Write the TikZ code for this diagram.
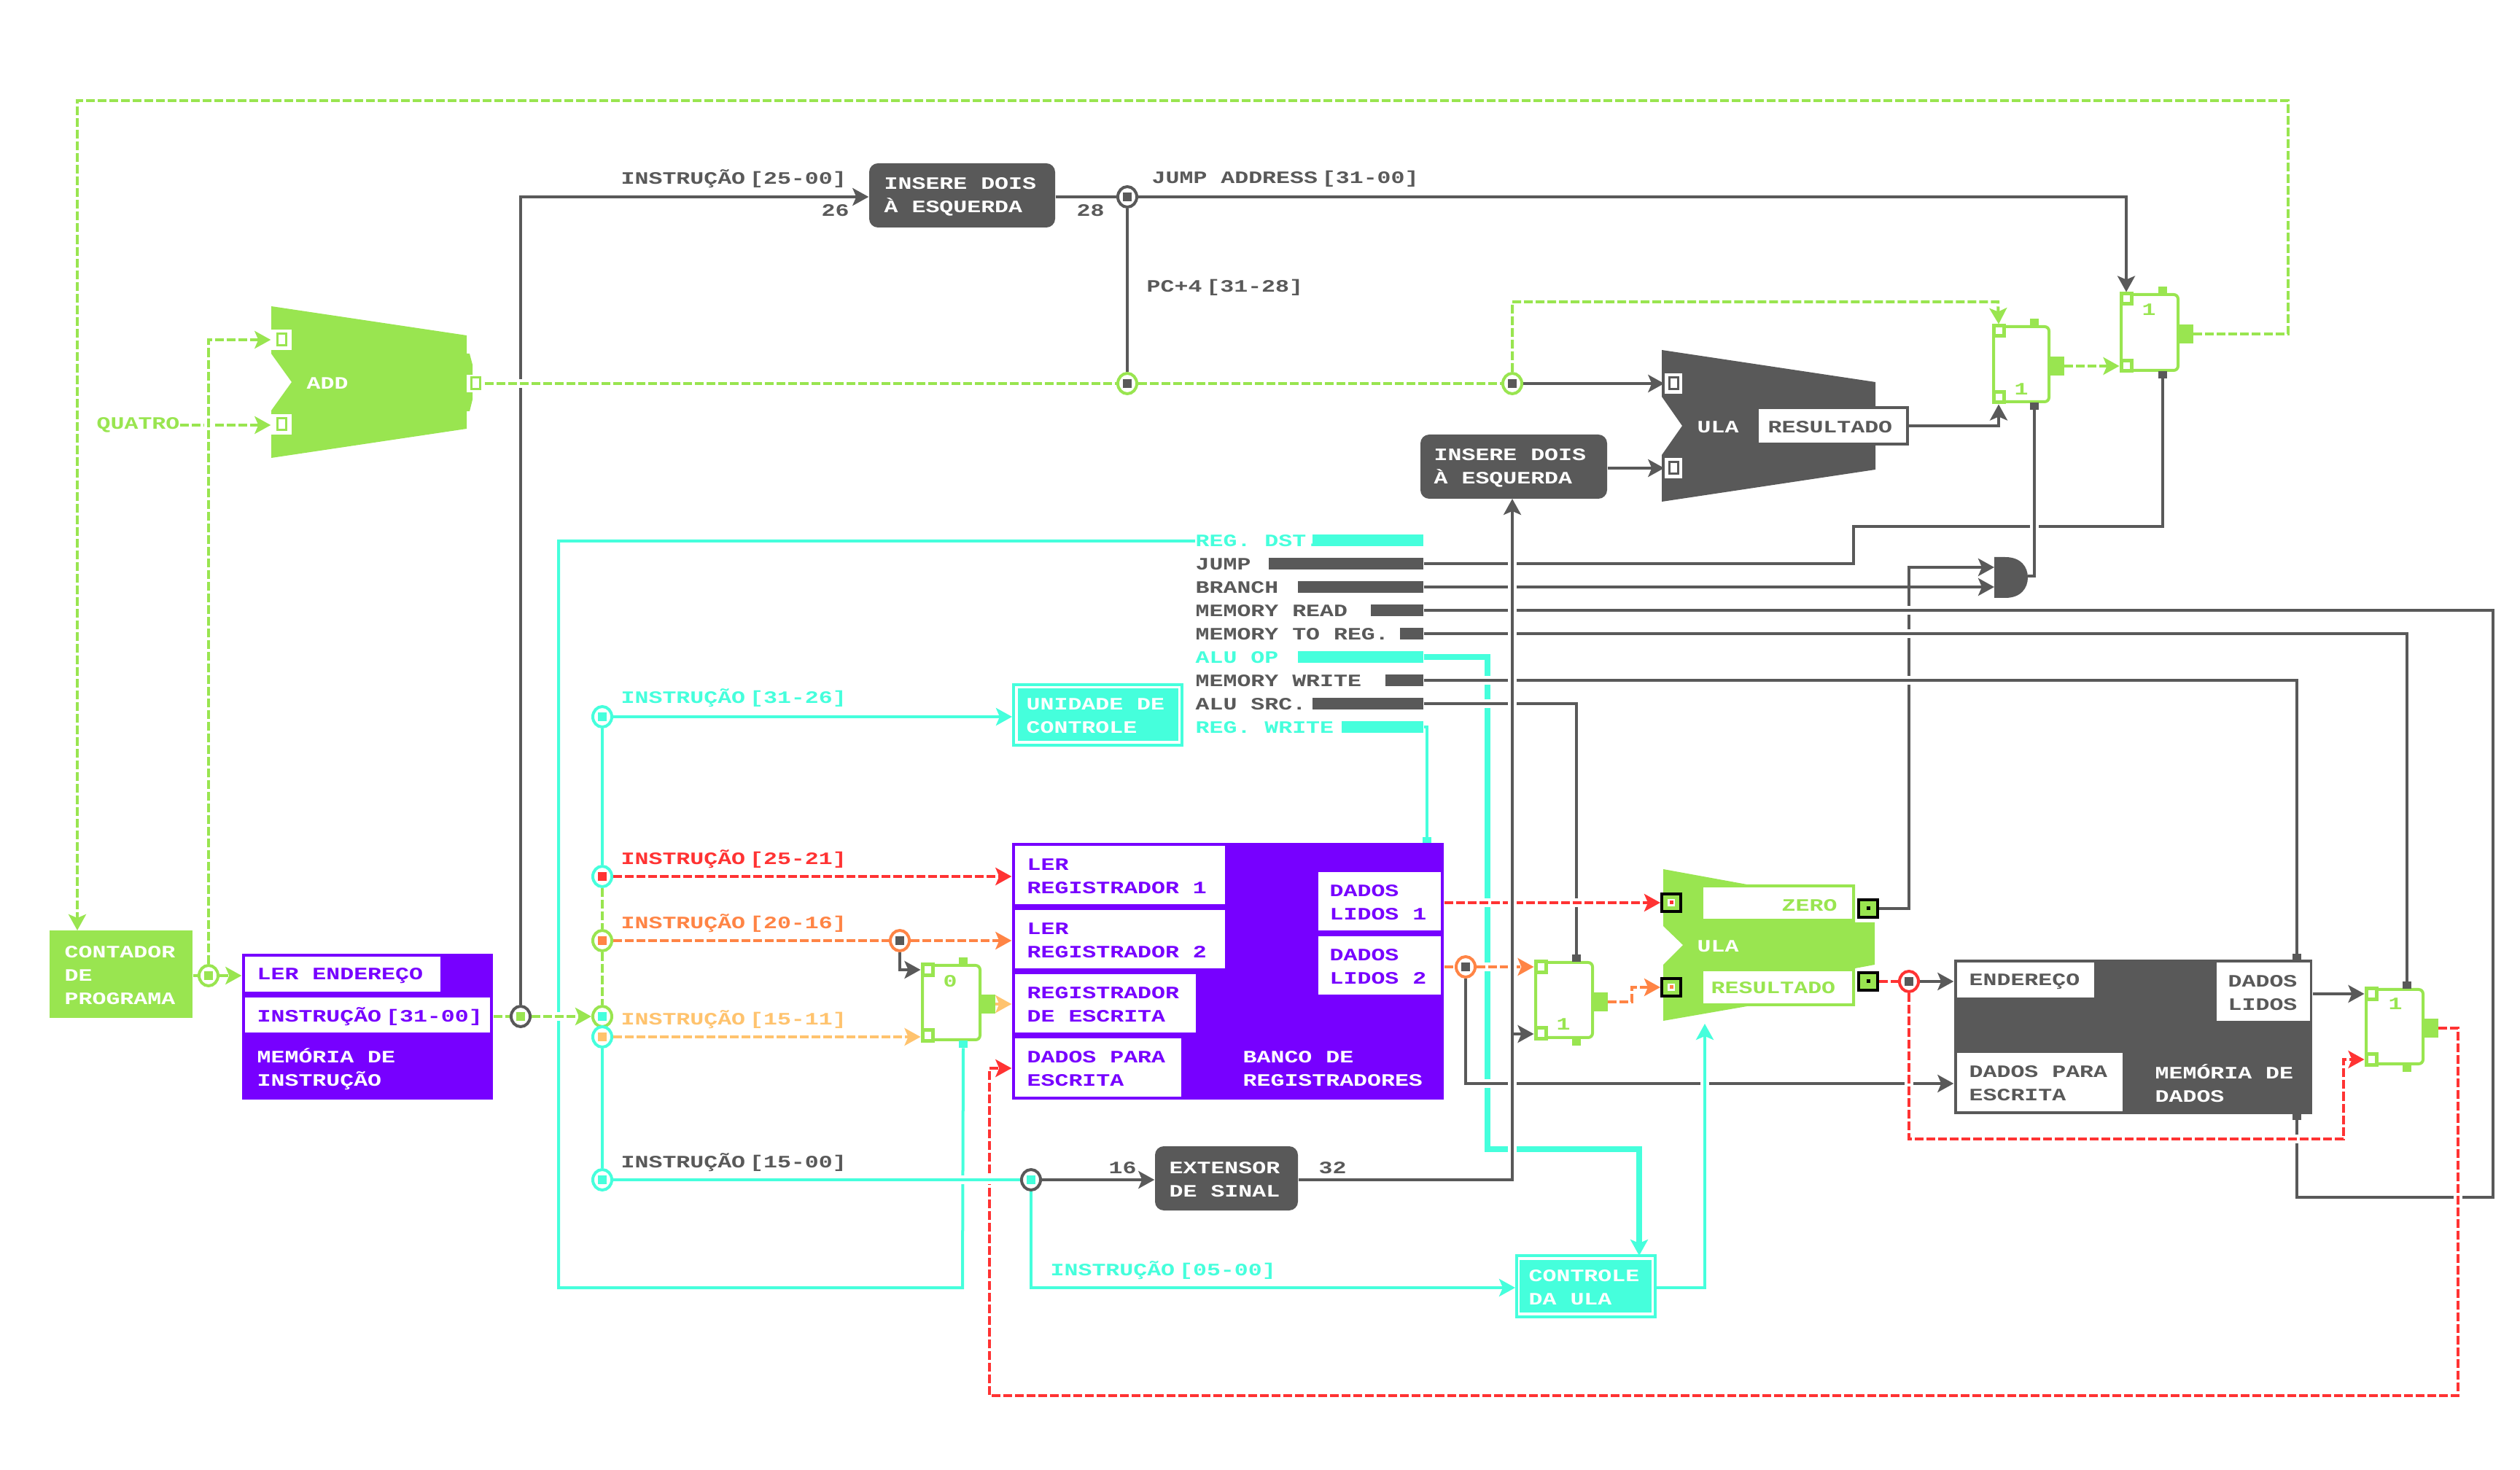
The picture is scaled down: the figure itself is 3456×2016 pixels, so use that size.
\documentclass[tikz,border=0pt]{standalone}
\usepackage{fontspec}
\newfontfamily\pixelfont[FakeStretch=1.32]{Liberation Mono}
\usetikzlibrary{positioning,arrows.meta,fit,shapes.geometric}

\definecolor{vgreen}{HTML}{99E550}
\definecolor{vcyan}{HTML}{45FFDC}
\definecolor{vpurple}{HTML}{7700FF}
\definecolor{vdark}{HTML}{595959}
\definecolor{vred}{HTML}{FF3333}
\definecolor{vorange}{HTML}{FF8445}
\definecolor{vlight}{HTML}{FFC36E}

\tikzset{
	txt/.style={anchor=west,inner sep=0,yshift=-.2mm,align=left,font=\pixelfont\bfseries\fontsize{6.8}{9.1}\selectfont},
	wire/.style={line width=.4mm},
	tip/.style={-{Stealth[length=2.2mm,width=2.4mm,inset=.5mm]}},
	blunt/.style={-{Square[length=.8mm,width=1.2mm]}},
	dsh/.style={dash pattern=on 1.2mm off .4mm},
	over/.style={preaction={draw=white,line width=1.2mm,solid,-}},
	wdark/.style={wire,draw=vdark},
	wcyan/.style={wire,draw=vcyan},
	wgreen/.style={wire,dsh,draw=vgreen},
	wred/.style={wire,dsh,draw=vred},
	worange/.style={wire,dsh,draw=vorange},
	wlight/.style={wire,dsh,draw=vlight},
	block/.style={inner sep=0,fill=#1},
	proc/.style={inner sep=0,fill=vdark,rounded corners=1.2mm},
	junc/.style 2 args={ellipse,draw=#1,line width=.4mm,fill=white,inner sep=0,
		minimum width=2.6mm,minimum height=2.8mm,
		path picture={\fill[#2] (path picture bounding box.center) ++(-6,-6) rectangle ++(12,12);}},
	portw/.style={fill=white,inner sep=0,minimum width=2.8mm,minimum height=2.8mm,
		path picture={\draw[#1,line width=.3mm] (path picture bounding box.center) ++(-6,-8) rectangle ++(12,16);}},
	portk/.style 2 args={fill=vgreen,draw=black,line width=.4mm,inner sep=0,minimum width=2.6mm,minimum height=2.4mm,
		path picture={\fill[#1] (path picture bounding box.center) ++(-5,-5) rectangle ++(10,10);
			\fill[#2] (path picture bounding box.center) ++(-2.5,-2.5) rectangle ++(5,5);}},
	muxbox/.style={draw=vgreen,line width=.4mm,fill=white,inner sep=0,rounded corners=.6mm},
	muxpin/.style={draw=vgreen,line width=.5mm,fill=white,inner sep=0,minimum width=1.4mm,minimum height=1.4mm},
	stub/.style={fill=#1,inner sep=0,minimum width=1.2mm,minimum height=1mm},
}

\begin{document}
\begin{tikzpicture}[x=.01cm,y=-.01cm]
	\useasboundingbox (0,0) rectangle (3456,2016);

	% somador e ULAs
	\fill[vgreen] (372,420) -- (640,460) -- (640,485) -- (644,485) -- (648,500) -- (648,548) -- (644,564) -- (640,564)
		-- (640,588) -- (372,628) -- (372,563) -- (400,524) -- (372,485) -- cycle;
	\fill[vdark] (2279,480) -- (2572,524) -- (2572,644) -- (2279,688) -- (2279,624) -- (2307,584) -- (2279,544) -- cycle;
	\fill[vgreen] (2281,1192) -- (2396,1213) -- (2544,1213) -- (2544,1265) -- (2571,1265) -- (2571,1323) -- (2544,1328)
		-- (2544,1380) -- (2396,1380) -- (2281,1400) -- (2281,1323) -- (2308,1296) -- (2281,1270) -- cycle;
	\fill[vdark] (2735,764) -- (2750,764) .. controls (2772,764) and (2781,778) .. (2781,792)
		.. controls (2781,806) and (2772,820) .. (2750,820) -- (2735,820) -- cycle;
	\coordinate (and1) at (2735,778);
	\coordinate (and2) at (2735,805);
	\coordinate (andout) at (2781,790);
	\coordinate (ulabot) at (2338,1404);
	\coordinate (tap) at (2074,1418);

	\node[portw=vgreen]	(pa1) at (386,466) {};
	\node[portw=vgreen]	(pa2) at (386,582) {};
	\node[portw=vgreen,minimum width=2.4mm,minimum height=2.4mm]	(pa3) at (652,526) {};
	\node[portw=vdark,minimum width=2.4mm]	(pu1) at (2295,526) {};
	\node[portw=vdark,minimum width=2.4mm]	(pu2) at (2295,642) {};
	\node[portk={white}{vred}]	(px1) at (2292,1238) {};
	\node[portk={white}{vorange}]	(px2) at (2292,1354) {};
	\node[portk={vgreen}{black}]	(pz) at (2562,1246) {};
	\node[portk={vgreen}{black}]	(pr) at (2562,1346) {};

	% blocos
	\node[block=vgreen,fit={(68,1276)(264,1396)}] (pc) {};
	\node[block=vpurple,fit={(332,1308)(676,1508)}] (imem) {};
	\node[block=white,fit={(336,1312)(604,1360)}] (imread) {};
	\node[block=white,fit={(336,1368)(672,1416)}] (imout) {};
	\node[proc,fit={(1192,224)(1447,312)}] (ins1) {};
	\node[proc,fit={(1948,596)(2204,684)}] (ins2) {};
	\node[proc,fit={(1584,1572)(1780,1660)}] (sign) {};
	\node[draw=vcyan,line width=.4mm,inner sep=0,fit={(1390,939)(1621,1022)}] (ctl) {};
	\node[block=vcyan,fit={(1396,944)(1616,1016)}] (ctlin) {};
	\node[draw=vcyan,line width=.4mm,inner sep=0,fit={(2080,1722)(2270,1806)}] (cul) {};
	\node[block=vcyan,fit={(2084,1728)(2265,1800)}] (culin) {};
	\node[block=vpurple,fit={(1388,1156)(1980,1508)}] (regs) {};
	\node[block=white,fit={(1392,1160)(1680,1240)}] (rr1) {};
	\node[block=white,fit={(1392,1248)(1680,1328)}] (rr2) {};
	\node[block=white,fit={(1392,1336)(1640,1416)}] (rw) {};
	\node[block=white,fit={(1392,1424)(1620,1504)}] (rd) {};
	\node[block=white,fit={(1808,1196)(1976,1276)}] (rl1) {};
	\node[block=white,fit={(1808,1284)(1976,1364)}] (rl2) {};
	\node[block=vdark,fit={(2680,1316)(3171,1528)}] (dm) {};
	\node[block=white,fit={(2684,1320)(2872,1368)}] (dmaddr) {};
	\node[block=white,fit={(3040,1320)(3168,1400)}] (dmread) {};
	\node[block=white,fit={(2684,1444)(2911,1524)}] (dmwrite) {};
	\node[fill=white,draw=vdark,line width=.4mm,inner sep=0,fit={(2410,559)(2616,609)}] (res1) {};
	\node[fill=white,draw=vgreen,line width=.4mm,inner sep=0,fit={(2334,1215)(2542,1262)}] (zerobox) {};
	\node[fill=white,draw=vgreen,line width=.4mm,inner sep=0,fit={(2334,1330)(2542,1378)}] (resbox) {};

	% barras do controle
	\foreach \nm/\xa/\ym/\col in {brd/1800/741/vcyan,bjump/1740/773/vdark,bbranch/1780/805/vdark,bread/1880/837/vdark,
		bmtr/1920/869/vdark,bop/1780/901/vcyan,bwrite/1900/933/vdark,bsrc/1800/965/vdark,brw/1840/997/vcyan}{
		\node[block=\col,fit={(\xa,\ym-8)(1952,\ym+8)}] (\nm) {};
	}

	% multiplexadores
	\foreach \nm/\xa/\ya/\xb/\yb/\oy/\sx/\ct/\cb in {mux0/1265/1324/1344/1426/1377/1321/vgreen/vcyan,
		mux1/2734/448/2810/551/502/2790/vgreen/vdark,mux2/2909/404/2987/508/458/2966/vgreen/vdark,
		muxa/2106/1320/2184/1423/1374/2162/vdark/vgreen,mux3/3245/1357/3323/1459/1410/3301/vdark/vgreen}{
		\node[muxbox,fit={(\xa,\ya)(\xb,\yb)}] (\nm) {};
		\node[muxpin] (\nm a) at (\xa+7,\ya+6) {};
		\node[muxpin] (\nm b) at (\xa+7,\yb-6) {};
		\node[fill=vgreen,inner sep=0,minimum width=2mm,minimum height=2.6mm,anchor=west] (\nm out) at (\xb,\oy) {};
		\node[stub=\ct,anchor=south] (\nm top) at (\sx,\ya) {};
		\node[stub=\cb,anchor=north] (\nm bot) at (\sx,\yb) {};
	}

	% juncoes
	\node[junc={vgreen}{vgreen}]	(jpc) at (286,1338) {};
	\node[junc={vdark}{vgreen}]		(jm) at (714,1394) {};
	\node[junc={vdark}{vdark}]		(j1) at (1546,270) {};
	\node[junc={vgreen}{vdark}]		(j2) at (1546,526) {};
	\node[junc={vgreen}{vdark}]		(j3) at (2074,526) {};
	\node[junc={vcyan}{vcyan}]		(j6) at (826,983) {};
	\node[junc={vcyan}{vred}]		(j7) at (826,1202) {};
	\node[junc={vgreen}{vorange}]	(j8) at (826,1290) {};
	\node[junc={vgreen}{vcyan}]		(j5) at (826,1394) {};
	\node[junc={vcyan}{vlight}]		(j9) at (826,1422) {};
	\node[junc={vcyan}{vcyan}]		(j10) at (826,1618) {};
	\node[junc={vorange}{vdark}]	(j11) at (1234,1290) {};
	\node[junc={vdark}{vcyan}]		(j12) at (1414,1618) {};
	\node[junc={vorange}{vdark}]	(j13) at (2010,1326) {};
	\node[junc={vred}{vdark}]		(j14) at (2618,1346) {};

	% textos
	\node[txt,text=vgreen]	(lq) at (132,581) {QUATRO};
	\node[txt,text=white]	(ladd) at (420,524) {ADD};
	\node[txt,text=white]	(lpc) at (88,1336) {CONTADOR\\DE\\PROGRAMA};
	\node[txt,text=vpurple]	(lim1) at (352,1336) {LER ENDEREÇO};
	\node[txt,text=vpurple]	(lim2) at (352,1392) {INSTRUÇÃO\kern.6mm[31-00]};
	\node[txt,text=white]	(lim3) at (352,1464) {MEMÓRIA DE\\INSTRUÇÃO};
	\node[txt,text=vdark]	(l1) at (851,243) {INSTRUÇÃO\kern.6mm[25-00]};
	\node[txt,text=vdark]	(l26) at (1126,287) {26};
	\node[txt,text=vdark]	(l28) at (1476,287) {28};
	\node[txt,text=white]	(lins1) at (1212,268) {INSERE DOIS\\À ESQUERDA};
	\node[txt,text=white]	(lins2) at (1966,640) {INSERE DOIS\\À ESQUERDA};
	\node[txt,text=vdark]	(ljump) at (1579,243) {JUMP ADDRESS\kern.6mm[31-00]};
	\node[txt,text=vdark]	(lpc4) at (1572,392) {PC+4\kern.6mm[31-28]};
	\node[txt,text=vcyan]	(l2) at (851,955) {INSTRUÇÃO\kern.6mm[31-26]};
	\node[txt,text=vred]	(l3) at (851,1176) {INSTRUÇÃO\kern.6mm[25-21]};
	\node[txt,text=vorange]	(l4) at (851,1264) {INSTRUÇÃO\kern.6mm[20-16]};
	\node[txt,text=vlight]	(l5) at (851,1396) {INSTRUÇÃO\kern.6mm[15-11]};
	\node[txt,text=vdark]	(l6) at (851,1592) {INSTRUÇÃO\kern.6mm[15-00]};
	\node[txt,text=vcyan]	(l7) at (1440,1740) {INSTRUÇÃO\kern.6mm[05-00]};
	\node[txt,text=white]	(lctl) at (1407,980) {UNIDADE DE\\CONTROLE};
	\node[txt,text=white]	(lcul) at (2096,1764) {CONTROLE\\DA ULA};
	\node[txt,text=white]	(lsign) at (1603,1616) {EXTENSOR\\DE SINAL};
	\node[txt,text=vdark]	(l16) at (1520,1600) {16};
	\node[txt,text=vdark]	(l32) at (1808,1600) {32};
	\node[txt,text=vcyan]	(lrd) at (1639,740) {REG. DST.};
	\node[txt,text=vdark]	(lj) at (1639,772) {JUMP};
	\node[txt,text=vdark]	(lb) at (1639,804) {BRANCH};
	\node[txt,text=vdark]	(lmr) at (1639,836) {MEMORY READ};
	\node[txt,text=vdark]	(lmt) at (1639,868) {MEMORY TO REG.};
	\node[txt,text=vcyan]	(lop) at (1639,900) {ALU OP};
	\node[txt,text=vdark]	(lmw) at (1639,932) {MEMORY WRITE};
	\node[txt,text=vdark]	(ls) at (1639,964) {ALU SRC.};
	\node[txt,text=vcyan]	(lrw) at (1639,996) {REG. WRITE};
	\node[txt,text=vpurple]	(lr1) at (1408,1200) {LER\\REGISTRADOR 1};
	\node[txt,text=vpurple]	(lr2) at (1408,1288) {LER\\REGISTRADOR 2};
	\node[txt,text=vpurple]	(lr3) at (1408,1376) {REGISTRADOR\\DE ESCRITA};
	\node[txt,text=vpurple]	(lr4) at (1408,1464) {DADOS PARA\\ESCRITA};
	\node[txt,text=white]	(lr5) at (1704,1464) {BANCO DE\\REGISTRADORES};
	\node[txt,text=vpurple]	(lr6) at (1823,1236) {DADOS\\LIDOS 1};
	\node[txt,text=vpurple]	(lr7) at (1823,1324) {DADOS\\LIDOS 2};
	\node[txt,text=white]	(lu1) at (2327,584) {ULA};
	\node[txt,text=vdark]	(lu2) at (2424,584) {RESULTADO};
	\node[txt,text=white]	(lu3) at (2327,1296) {ULA};
	\node[txt,text=vgreen]	(lu4) at (2443,1240) {ZERO};
	\node[txt,text=vgreen]	(lu5) at (2346,1353) {RESULTADO};
	\node[txt,text=vdark]	(ld1) at (2700,1344) {ENDEREÇO};
	\node[txt,text=vdark]	(ld2) at (3055,1360) {DADOS\\LIDOS};
	\node[txt,text=vdark]	(ld3) at (2700,1484) {DADOS PARA\\ESCRITA};
	\node[txt,text=white]	(ld4) at (2955,1484) {MEMÓRIA DE\\DADOS};
	\node[txt,text=vgreen,anchor=center]	(d0) at (1303,1344) {0};
	\node[txt,text=vgreen,anchor=center]	(d1) at (2772,532) {1};
	\node[txt,text=vgreen,anchor=center]	(d2) at (2947,423) {1};
	\node[txt,text=vgreen,anchor=center]	(d3) at (2144,1403) {1};
	\node[txt,text=vgreen,anchor=center]	(d4) at (3285,1375) {1};

	% fios de baixo
	\draw[wcyan] (lrd.west) -- (lrd.west -| 766,0) -- (766,1766) -- (1320,1766) -- (mux0bot.south);
	\draw[wcyan,line width=.8mm,tip] (bop.east) -- (2040,901) -- (2040,1576) -- (2248,1576) -- (2248,1722);
	\draw[wdark,tip] (pz.east) -| (2618,778) -- (and1);
	\draw[wdark,tip] (jm) -- (714,270) -- (ins1.west |- j1);

	% fios de controle
	\draw[wdark,over] (bjump.east) -- (2542,773) -- (2542,722) -- (2966,722) -- (mux2bot.south);
	\draw[wdark,over] (andout) -| (mux1bot.south);
	\draw[wdark,tip] (bbranch.east) -- (and2);
	\draw[wdark,over] (bread.east) -- (3419,837) -- (3419,1642) -- (3150,1642) -- (3150,1536);
	\draw[wdark,over] (bmtr.east) -| (mux3top.north);
	\draw[wdark,over,blunt] (bwrite.east) -- (3150,933) -- (3150,1316);
	\draw[wdark,over] (bsrc.east) -| (muxatop.north);
	\draw[wcyan,blunt] (brw.east) -- (1957,997) -- (1957,1156);
	\fill[vdark] (3144,1528) rectangle (3156,1536);

	% caminho do PC
	\draw[wgreen] (pc.east |- jpc) -- (jpc);
	\draw[wgreen,tip] (jpc) -- (imem.west |- jpc);
	\draw[wgreen,tip] (lq.east) -- (lq.east -| pa2.west);
	\draw[wgreen,tip,over] (jpc) -- (286,466) -- (pa1.west);
	\draw[wgreen,tip] (mux2out.east) -- (3138,458) -- (3138,138) -- (106,138) -- (106,1276);
	\draw[wgreen,over] (pa3.east) -- (j2);
	\draw[wgreen] (j2) -- (j3);
	\draw[wgreen,tip] (j3) -- (2074,414) -- (2740,414) -- (mux1a.north);
	\draw[wdark,tip] (j3) -- (pu1.west);
	\draw[wdark,tip] (ins2.east |- pu2) -- (pu2.west);
	\draw[wdark] (j1) -- (j2);
	\draw[wdark] (ins1.east |- j1) -- (j1);
	\draw[wdark,tip] (j1) -| (mux2a.north);
	\draw[wdark,tip] (res1.east) -| (mux1b.south);
	\draw[wgreen,tip] (mux1out.east) -- (mux2b.west);

	% instrucao
	\draw[wgreen] (imem.east |- jm) -- (jm);
	\draw[wgreen,tip,over] (jm) -- (j5.west);
	\draw[wcyan] (j6) -- (j7);
	\draw[wgreen] (j7) -- (j8);
	\draw[wgreen] (j8) -- (j5);
	\draw[wcyan] (j9) -- (j10);
	\draw[wcyan,tip] (j6) -- (ctl.west |- j6);
	\draw[wred,tip] (j7) -- (regs.west |- j7);
	\draw[worange] (j8) -- (j11);
	\draw[worange,tip] (j11) -- (regs.west |- j11);
	\draw[wdark,tip] (j11) |- (mux0a.west);
	\draw[wlight,tip] (j9) -- (j9 -| mux0b.west);
	\draw[wlight,tip] (mux0out.east) -- (regs.west |- mux0out);

	% saidas do banco e da ULA
	\draw[wred,tip,over] (regs.east |- px1) -- (px1.west);
	\draw[worange,over] (regs.east |- j13) -- (j13);
	\draw[worange,tip,over] (j13) -- (j13 -| muxaa.west);
	\draw[wdark,tip,over] (j13) |- (dm.west |- 0,1486);
	\draw[worange,tip] (muxaout.east) -- (2238,1374) -- (2238,1354) -- (px2.west);
	\draw[wred] (pr.east) -- (j14);
	\draw[wdark,tip] (j14) -- (dm.west |- j14);
	\draw[wred,tip,over] (j14) -- (2618,1562) -- (3214,1562) -- (3214,1453) -- (mux3b.west);
	\draw[wdark,tip] (dm.east |- mux3a) -- (mux3a.west);
	\draw[wred,tip,over] (mux3out.east) -- (3371,1410) -- (3371,1914) -- (1357,1914) -- (1357,1465) -- (regs.west |- 0,1465);

	% extensor e controle da ULA
	\draw[wcyan,over] (j10) -- (j12);
	\draw[wdark,tip] (j12) -- (sign.west |- j12);
	\draw[wcyan,tip] (j12) -- (1414,1766) -- (cul.west |- 0,1766);
	\draw[wdark,tip,over] (sign.east |- j12) -- (2074,1618) -- (2074,684);
	\draw[wdark,tip] (tap) -- (tap -| muxab.west);
	\draw[wcyan,tip,over] (cul.east |- 0,1766) -- (2338,1766) -- (ulabot);
\end{tikzpicture}
\end{document}
